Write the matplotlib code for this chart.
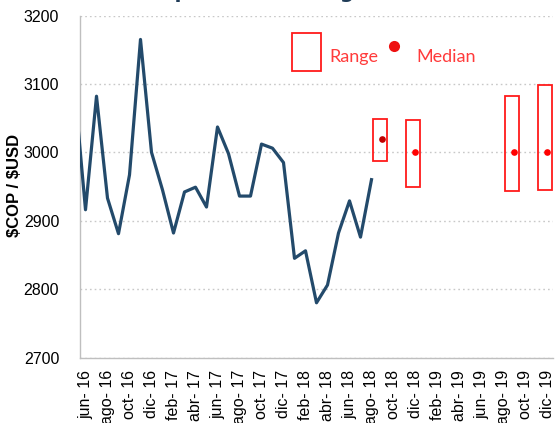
import matplotlib
matplotlib.use("Agg")
import matplotlib.pyplot as plt
from matplotlib.patches import Rectangle

# ---- data ----
months = ["may-16", "jun-16", "jul-16", "ago-16", "sep-16", "oct-16", "nov-16", "dic-16",
          "ene-17", "feb-17", "mar-17", "abr-17", "may-17", "jun-17", "jul-17", "ago-17",
          "sep-17", "oct-17", "nov-17", "dic-17", "ene-18", "feb-18", "mar-18", "abr-18",
          "may-18", "jun-18", "jul-18", "ago-18"]
rate = [3095, 2916, 3082, 2933, 2881, 2967, 3165, 3000,
        2945, 2882, 2942, 2949, 2920, 3037, 2998, 2936,
        2936, 3012, 3006, 2985, 2845, 2856, 2780, 2806,
        2882, 2929, 2876, 2960]

tick_labels = ["jun- 16", "ago- 16", "oct- 16", "dic- 16", "feb- 17", "abr- 17", "jun- 17",
               "ago- 17", "oct- 17", "dic- 17", "feb- 18", "abr- 18", "jun- 18", "ago- 18",
               "oct- 18", "dic- 18", "feb- 19", "abr- 19", "jun- 19", "ago- 19", "oct- 19",
               "dic- 19"]

fc_months = ["sep-18", "dic-18", "sep-19", "dic-19"]
fc_low = [2987, 2950, 2943, 2945]
fc_high = [3049, 3047, 3082, 3099]
fc_median = [3020, 3000, 3000, 3000]

# month index: jun-16 = 0
all_months = []
for y in range(16, 20):
    for m in ["ene", "feb", "mar", "abr", "may", "jun", "jul", "ago", "sep", "oct", "nov", "dic"]:
        all_months.append(f"{m}-{y}")
base = all_months.index("jun-16")
def idx(m):
    return all_months.index(m) - base

x_line = [idx(m) for m in months]
x_fc = [idx(m) for m in fc_months]

fig = plt.figure(figsize=(5.55, 4.23), dpi=100)
ax = fig.add_axes([80/555, 1 - 357.5/423, 473/555, 342/423])

navy = "#234a6b"
red = "#ff1a1a"

ax.plot(x_line, rate, color=navy, lw=2.3, zorder=3, clip_on=True)

box_w = 1.25
for i, (xc, lo, hi, md) in enumerate(zip(x_fc, fc_low, fc_high, fc_median)):
    ax.add_patch(Rectangle((xc - 0.25 - box_w/2, lo), box_w, hi - lo, fill=False,
                           edgecolor=red, lw=1.3, zorder=4))
    ax.plot([xc - 0.05], [md], "o", color="#c00000" if i == 0 else "#ff0000",
            ms=4.8, mec="none", zorder=5)

ax.set_xlim(-0.5, 42.5)
ax.set_ylim(2700, 3200)
ax.set_yticks([2700, 2800, 2900, 3000, 3100, 3200])
ax.set_xticks(list(range(0, 43, 2)))
ax.set_xticklabels(tick_labels, rotation=90, fontsize=11.5, family="Liberation Sans")
for lab in ax.get_yticklabels():
    lab.set_fontsize(11.5)
    lab.set_family("Liberation Sans")
ax.tick_params(axis="y", length=0, pad=15)
ax.tick_params(axis="x", length=0, pad=9)

ax.grid(axis="y", color="#c8c8c8", linestyle=(0, (1.2, 2.2)), lw=1.0)
ax.set_axisbelow(True)
for s in ["top", "right"]:
    ax.spines[s].set_visible(False)
for s in ["left", "bottom"]:
    ax.spines[s].set_color("#bfbfbf")
    ax.spines[s].set_linewidth(1.0)

fig.text(15/555, 1 - 185/423, "\\$COP / \\$USD", rotation=90, ha="center", va="center",
         fontsize=12, fontweight="bold", family="Liberation Sans")

# legend drawn manually
fig.patches.append(Rectangle((292/555, 1 - 71.5/423), 29/555, 38/423, fill=False,
                             edgecolor=red, lw=1.3, transform=fig.transFigure))
fig.text(329/555, 1 - 57/423, "Range", color="#ff3b3b", fontsize=13, family="Lato",
         ha="left", va="center")
fig.lines.append(plt.Line2D([394/555], [1 - 46.5/423], marker="o", ms=8, color="#ee1111",
                            mec="none", transform=fig.transFigure))
fig.text(416/555, 1 - 57/423, "Median", color="#ff3b3b", fontsize=13, family="Lato",
         ha="left", va="center")

# title mostly cropped above the figure (as in the reference)
fig.text(94/555, 1 + 1.8/423, "COP expectations range", color="#1f3b57", fontsize=14.5,
         fontweight="bold", ha="left", va="baseline")

fig.savefig("out.png", dpi=100)
